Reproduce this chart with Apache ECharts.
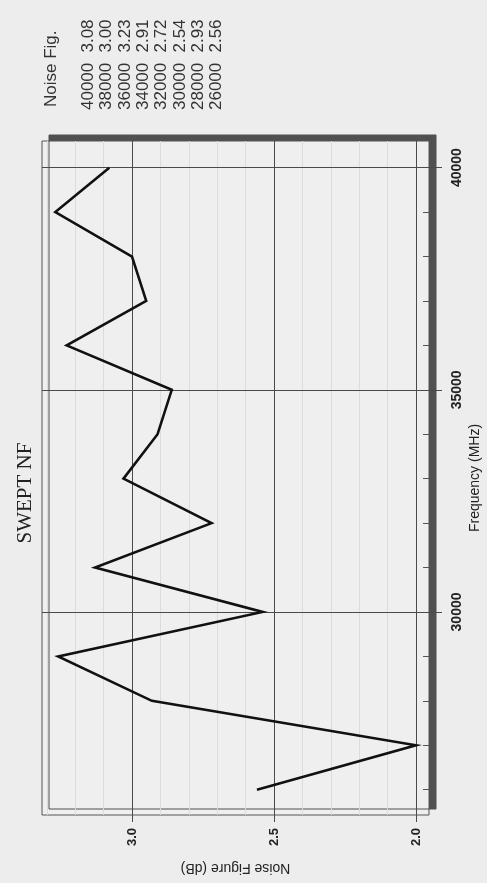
<!DOCTYPE html>
<html>
<head>
<meta charset="utf-8">
<script src="https://cdn.jsdelivr.net/npm/echarts@6/dist/echarts.min.js"></script>
<style>
html,body{margin:0;padding:0;background:#eeeded;}
#c{width:487px;height:883px;}
</style>
</head>
<body>
<div id="c"></div>
<script>
// ---- data ----
const frequencies = [26000, 27000, 28000, 29000, 30000, 31000, 32000, 33000, 34000, 35000, 36000, 37000, 38000, 39000, 40000];
const noiseFigure = [2.56, 2.00, 2.93, 3.26, 2.54, 3.13, 2.72, 3.03, 2.91, 2.86, 3.23, 2.95, 3.00, 3.27, 3.08];

const freqMajorTicks = [30000, 35000, 40000];
const freqMinorTicks = [26000, 27000, 28000, 29000, 30000, 31000, 32000, 33000, 34000, 35000, 36000, 37000, 38000, 39000, 40000];
const nfMajorTicks = [2.0, 2.5, 3.0];
const nfMinorTicks = [2.0, 2.1, 2.2, 2.3, 2.4, 2.5, 2.6, 2.7, 2.8, 2.9, 3.0, 3.1, 3.2, 3.3];

const tableFrequencies = [40000, 38000, 36000, 34000, 32000, 30000, 28000, 26000];
const tableNoiseFigure = ['3.08', '3.00', '3.23', '2.91', '2.72', '2.54', '2.93', '2.56'];

const titleText = 'SWEPT NF';
const tableHeader = 'Noise Fig.';
const nfAxisName = 'Noise Figure (dB)';
const freqAxisName = 'Frequency (MHz)';

// ---- chart ----
const chart = echarts.init(document.getElementById('c'), null, {renderer: 'canvas'});

const NF_MIN = 1.954, NF_MAX = 3.317;
const F_MIN = 25430, F_MAX = 40600;
const SANS = '"Liberation Sans", Arial, sans-serif';
const SERIF = '"Liberation Serif", "Times New Roman", serif';
const INK = '#222';
const GRIDC = '#4a4a4a';

const seriesData = frequencies.map((f, i) => [noiseFigure[i], f]);

const gridLines = []
  .concat(nfMinorTicks.filter(v => nfMajorTicks.indexOf(v) < 0).map(v => ({xAxis: v, lineStyle: {color: '#dcdcdc', width: 1, type: 'solid'}})))
  .concat(nfMajorTicks.map(v => ({xAxis: v, lineStyle: {color: GRIDC, width: 1, type: 'solid'}})))
  .concat(freqMajorTicks.map(v => ({yAxis: v, lineStyle: {color: GRIDC, width: 1, type: 'solid'}})));

const graphics = [];
graphics.push({
  type: 'text', x: 25, y: 493, rotation: Math.PI / 2, silent: true,
  style: {text: titleText, font: '21px ' + SERIF, fill: INK,
    textAlign: 'center', align: 'center', textVerticalAlign: 'middle', verticalAlign: 'middle'}
});
graphics.push({
  type: 'text', x: 51, y: 107, rotation: Math.PI / 2, silent: true,
  style: {text: tableHeader, font: '17px ' + SANS, fill: '#333',
    textAlign: 'left', align: 'left', textVerticalAlign: 'middle', verticalAlign: 'middle'}
});
tableFrequencies.forEach((f, i) => {
  const x = 88.3 + 18.35 * i;
  graphics.push({
    type: 'text', x: x, y: 110, rotation: Math.PI / 2, silent: true,
    style: {text: String(f), font: '17px ' + SANS, fill: '#333',
      textAlign: 'left', align: 'left', textVerticalAlign: 'middle', verticalAlign: 'middle'}
  });
  graphics.push({
    type: 'text', x: x, y: 36, rotation: Math.PI / 2, silent: true,
    style: {text: tableNoiseFigure[i], font: '17px ' + SANS, fill: '#333',
      textAlign: 'center', align: 'center', textVerticalAlign: 'middle', verticalAlign: 'middle'}
  });
});

const option = {
  backgroundColor: '#eeeded',
  animation: false,
  grid: {
    left: 42, right: 58, top: 141, bottom: 68,
    containLabel: false, outerBoundsMode: 'none',
    show: true, backgroundColor: '#f0efef',
    borderColor: '#555', borderWidth: 1,
    shadowColor: '#505050', shadowBlur: 0, shadowOffsetX: 7, shadowOffsetY: -6
  },
  xAxis: [
    { // minor inward ticks
      type: 'value', position: 'bottom', inverse: true, min: NF_MIN, max: NF_MAX,
      axisLine: {show: false}, splitLine: {show: false},
      axisTick: {show: true, inside: true, length: 6, customValues: nfMinorTicks, lineStyle: {color: '#555', width: 1}},
      axisLabel: {show: false}
    },
    { // major outward ticks + labels + name
      type: 'value', position: 'bottom', inverse: true, min: NF_MIN, max: NF_MAX,
      axisLine: {show: false}, splitLine: {show: false},
      axisTick: {show: true, inside: false, length: 7, customValues: nfMajorTicks, lineStyle: {color: GRIDC, width: 1}},
      axisLabel: {show: true, customValues: nfMajorTicks, rotate: 90, margin: 13,
        formatter: v => Number(v).toFixed(1),
        fontFamily: SANS, fontSize: 13, fontWeight: 'bold', color: INK},
      name: nfAxisName, nameLocation: 'middle', nameRotate: 180, nameGap: 46, nameMoveOverlap: false,
      nameTextStyle: {fontFamily: SANS, fontSize: 14, color: INK}
    }
  ],
  yAxis: [
    {
      type: 'value', position: 'right', min: F_MIN, max: F_MAX,
      axisLine: {show: false}, splitLine: {show: false},
      axisTick: {show: true, inside: true, length: 6, customValues: freqMinorTicks, lineStyle: {color: '#555', width: 1}},
      axisLabel: {show: false}
    },
    {
      type: 'value', position: 'right', min: F_MIN, max: F_MAX,
      axisLine: {show: false}, splitLine: {show: false},
      axisTick: {show: true, inside: false, length: 13, customValues: freqMajorTicks, lineStyle: {color: GRIDC, width: 1}},
      axisLabel: {show: true, customValues: freqMajorTicks, rotate: 90, margin: 21,
        formatter: v => String(Math.round(v)),
        fontFamily: SANS, fontSize: 14, fontWeight: 'bold', color: INK},
      name: freqAxisName, nameLocation: 'middle', nameRotate: 90, nameGap: 39, nameMoveOverlap: false,
      nameTextStyle: {fontFamily: SANS, fontSize: 14, color: INK}
    }
  ],
  series: [
    {
      type: 'line', xAxisIndex: 0, yAxisIndex: 0, data: [], silent: true, z: 1,
      markLine: {silent: true, symbol: 'none', z: 1, label: {show: false}, animation: false, data: gridLines}
    },
    {
      type: 'line', xAxisIndex: 0, yAxisIndex: 0, data: seriesData, z: 3,
      showSymbol: false, symbol: 'none', smooth: false,
      lineStyle: {color: '#111', width: 2.6, join: 'miter'}
    }
  ],
  graphic: graphics
};
chart.setOption(option);
</script>
</body>
</html>
